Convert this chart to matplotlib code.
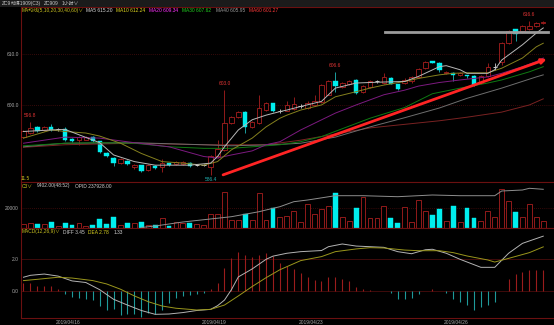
import matplotlib
matplotlib.use("Agg")
import matplotlib.pyplot as plt
from matplotlib.patches import Rectangle

plt.rcParams["font.family"] = ["Liberation Sans", "Noto Sans CJK SC", "DejaVu Sans"]

# hourly candles, ZC909
opens = [593.9, 594.7, 595.8, 595.1, 595.8, 595.3, 595.4, 593.5, 593.2, 593.3,
         593.9, 593.0, 590.7, 589.8, 588.7, 589.2, 587.9, 588.3, 587.3, 588.2,
         588.0, 588.7, 588.5, 588.6, 588.8, 588.3, 588.3, 588.0, 590.0, 591.3,
         596.6, 597.7, 598.8, 595.8, 596.5, 599.1, 600.4, 599.0, 599.0, 599.3,
         599.9, 599.6, 600.0, 600.7, 602.1, 604.7, 603.6, 604.3, 605.0, 602.7,
         603.7, 604.7, 604.5, 605.4, 604.2, 604.4, 604.7, 605.6, 607.3, 608.7,
         608.4, 606.3, 606.3, 605.9, 605.9, 605.8, 604.4, 605.7, 607.6, 608.6,
         612.2, 614.9, 614.5, 615.0, 615.5, 616.2]
highs = [595.2, 596.8, 596.0, 596.0, 596.4, 595.6, 595.8, 593.6, 594.0, 594.0,
         594.0, 593.1, 590.8, 589.9, 589.8, 589.4, 588.5, 588.4, 588.6, 588.3,
         589.6, 588.8, 589.1, 589.2, 588.9, 588.5, 588.5, 590.2, 593.2, 603.0,
         598.0, 598.9, 599.0, 597.0, 602.1, 600.6, 600.5, 599.4, 600.9, 601.6,
         600.2, 600.8, 602.1, 604.2, 604.9, 606.6, 604.6, 605.0, 605.2, 604.0,
         604.9, 605.0, 606.3, 605.5, 604.3, 605.3, 605.8, 607.3, 608.8, 608.8,
         608.5, 606.8, 606.5, 606.5, 606.0, 606.0, 605.9, 608.3, 608.3, 612.4,
         614.7, 615.0, 615.7, 616.6, 616.4, 616.5]
lows = [593.6, 594.5, 594.8, 595.0, 595.0, 595.0, 593.0, 592.9, 592.3, 593.2,
        592.9, 590.6, 589.9, 588.1, 588.5, 588.3, 587.6, 587.0, 587.1, 587.6,
        587.0, 588.2, 588.4, 588.4, 588.0, 588.1, 588.1, 586.4, 589.8, 591.0,
        596.4, 597.5, 594.7, 595.5, 596.3, 599.0, 598.8, 598.6, 598.9, 599.1,
        599.6, 599.4, 599.8, 600.5, 602.0, 602.7, 603.4, 604.1, 602.3, 602.5,
        603.5, 604.4, 604.3, 604.2, 603.1, 604.2, 604.5, 605.4, 607.1, 608.3,
        606.6, 606.1, 604.7, 605.7, 605.4, 603.8, 604.2, 605.5, 607.0, 608.0,
        612.0, 612.6, 614.3, 614.8, 615.3, 616.0]
closes = [594.9, 595.5, 594.9, 595.8, 595.1, 595.3, 593.2, 593.1, 593.8, 593.8,
          593.0, 590.8, 590.0, 588.7, 589.6, 588.5, 588.3, 587.2, 588.3, 587.8,
          588.8, 588.4, 589.0, 589.0, 588.1, 588.3, 588.3, 590.0, 591.4, 596.6,
          597.8, 598.7, 595.8, 596.8, 599.6, 600.4, 599.0, 599.0, 600.1, 600.3,
          599.9, 600.5, 600.8, 604.0, 604.7, 603.8, 604.4, 604.7, 602.4, 603.8,
          604.7, 604.7, 605.6, 604.3, 603.2, 605.0, 605.6, 607.1, 608.6, 608.4,
          607.0, 606.6, 606.0, 606.3, 605.7, 604.0, 605.7, 607.5, 607.6, 612.2,
          614.5, 614.0, 615.5, 615.5, 616.2, 616.4]
volumes = [4.0, 4.7, 3.7, 4.0, 6.3, 2.0, 5.3, 3.0, 4.7, 2.0,
           3.0, 9.0, 3.7, 11.3, 3.0, 4.7, 5.0, 5.7, 3.0, 3.0,
           9.7, 2.0, 6.3, 5.0, 4.7, 4.0, 3.0, 13.7, 13.7, 35.7,
           8.0, 8.5, 13.7, 8.0, 34.7, 8.0, 20.5, 11.3, 12.3, 17.0,
           6.3, 23.7, 13.7, 19.0, 22.0, 34.7, 10.7, 7.0, 19.7, 31.3,
           9.7, 9.7, 22.0, 9.7, 5.3, 20.7, 5.7, 28.0, 17.0, 13.0,
           19.0, 7.0, 22.3, 5.7, 20.3, 10.3, 7.0, 17.0, 10.7, 38.7,
           27.0, 16.3, 11.0, 23.7, 11.0, 7.0]  # thousand lots
macd_hist = [0.5, 0.52, 0.35, 0.33, 0.31, 0.17, -0.15, -0.38, -0.44, -0.5,
             -0.54, -0.92, -1.17, -1.13, -1.48, -1.44, -1.44, -1.58, -1.38, -1.42,
             -1.17, -0.71, -0.44, -0.29, -0.23, -0.17, -0.08, 0.17, 0.52, 1.44,
             2.06, 2.48, 2.27, 2.13, 2.27, 2.38, 2.2, 1.79, 1.58, 1.38,
             1.13, 0.92, 0.71, 0.67, 0.88, 0.88, 0.75, 0.67, 0.25, 0.15,
             0.08, 0.04, 0.04, -0.13, -0.5, -0.5, -0.44, -0.17, 0.04, 0.13,
             0.04, -0.13, -0.5, -0.65, -0.86, -1.17, -1.0, -0.86, -0.65, 0.04,
             0.75, 1.08, 1.23, 1.33, 1.33, 1.33]

# moving averages (bar index, price)
ma5_x = [0, 4, 6, 11, 13, 16, 19, 24, 27, 28, 29, 31, 33, 35, 37, 38, 40, 43, 45, 48,
         50, 52, 55, 57, 60, 61, 63, 64, 67, 68, 69, 72, 74, 75]
ma5_y = [594.9, 595.2, 595.3, 592.7, 590.3, 589.0, 588.3, 588.3, 588.7, 590.0, 591.9,
         595.2, 597.2, 598.1, 598.8, 599.1, 599.8, 600.8, 603.4, 604.4, 604.5, 604.6,
         604.7, 605.7, 607.6, 607.8, 607.0, 606.3, 606.3, 607.0, 608.9, 611.9, 614.2, 615.2]
ma10_x = [0, 4, 6, 9, 11, 14, 17, 20, 23, 26, 28, 30, 33, 35, 37, 38, 40, 43, 45, 48,
          50, 52, 55, 57, 60, 62, 64, 67, 69, 72, 74, 75]
ma10_y = [593.6, 595.2, 594.9, 594.6, 594.0, 592.6, 590.6, 589.0, 588.7, 588.3, 589.0,
          591.3, 593.6, 595.8, 597.5, 598.1, 599.1, 600.1, 601.7, 602.7, 603.4, 604.0,
          604.7, 605.3, 606.0, 606.3, 606.4, 606.4, 607.3, 609.3, 611.5, 612.2]
ma20_x = [0, 4, 6, 11, 16, 21, 26, 28, 30, 33, 35, 37, 40, 45, 48, 50, 52, 55, 57, 60,
          63, 67, 69, 72, 74, 75]
ma20_y = [592.6, 593.4, 593.8, 593.6, 592.7, 591.9, 590.0, 589.7, 590.3, 591.1, 592.3,
          592.9, 595.2, 598.5, 600.1, 601.1, 602.1, 603.0, 603.8, 604.5, 605.0, 605.6,
          606.3, 607.6, 608.6, 609.3]
ma30_x = [0, 6, 11, 16, 21, 26, 30, 35, 37, 40, 43, 50, 55, 59, 63, 67, 69, 73, 75]
ma30_y = [592.1, 592.6, 592.7, 592.6, 591.9, 591.6, 591.6, 592.1, 592.3, 592.9, 593.9,
          597.5, 599.6, 602.3, 603.4, 604.4, 605.0, 606.6, 607.6]
ma40_x = [0, 6, 16, 26, 30, 36, 40, 45, 50, 55, 60, 64, 69, 74, 75]
ma40_y = [591.9, 592.6, 592.7, 592.3, 592.1, 592.3, 592.6, 593.8, 595.8, 597.6, 599.5,
          601.4, 603.4, 605.6, 606.0]
ma60_x = [0, 6, 16, 26, 35, 40, 45, 50, 55, 60, 64, 69, 73, 75]
ma60_y = [591.8, 592.3, 592.6, 592.3, 592.3, 593.2, 594.4, 595.6, 596.3, 597.0, 597.7,
          598.7, 600.1, 601.3]

# open interest line in volume pane (same scale as volumes)
oi_x = [17, 19, 23, 30, 34, 36, 37, 39, 41, 45, 49, 54, 59, 63, 68, 69, 72, 73, 75]
oi_y = [0.5, 2.0, 6.0, 11.3, 16.3, 19.7, 21.3, 26.3, 28.0, 32.3, 32.3, 31.3, 33.0,
        32.3, 32.3, 37.0, 38.0, 39.7, 38.7]

# MACD lines
diff_x = [0, 1, 3, 5, 7, 9, 11, 13, 15, 17, 19, 21, 23, 25, 27, 28, 29, 30, 31, 33,
          35, 36, 38, 40, 43, 44, 46, 48, 50, 52, 54, 56, 58, 59, 61, 63, 66, 68, 70, 72, 75]
diff_y = [0.88, 1.0, 1.08, 0.95, 0.65, 0.55, 0.1, -0.5, -0.86, -1.2, -1.44, -1.42, -1.33,
          -1.2, -1.13, -0.9, -0.55, 0.1, 0.9, 1.4, 2.0, 2.2, 2.38, 2.48, 2.55, 2.79, 2.96,
          2.83, 2.79, 2.75, 2.48, 2.35, 2.6, 2.63, 2.38, 2.0, 1.5, 1.5, 2.38, 3.0, 3.45]
dea_x = [0, 2, 5, 7, 10, 12, 14, 16, 18, 20, 22, 24, 25, 27, 29, 31, 33, 35, 37, 38, 40,
         43, 45, 48, 50, 52, 55, 57, 60, 62, 64, 67, 68, 70, 73, 75]
dea_y = [0.67, 0.75, 0.88, 0.83, 0.67, 0.46, 0.13, -0.29, -0.65, -0.92, -1.06, -1.13,
         -1.17, -1.13, -0.86, -0.29, 0.3, 0.85, 1.35, 1.54, 1.92, 2.17, 2.48, 2.65, 2.73,
         2.71, 2.58, 2.54, 2.54, 2.42, 2.21, 1.96, 1.83, 2.06, 2.42, 2.78]

# drawn objects: trend arrow and resistance line
trend_x = [28.8, 75.5]
trend_y = [586.4, 609.1]
level_x = [52.2, 75.7]
level_y = [614.4, 614.4]

high_marks = [1, 29, 45, 73]
low_marks = [27]
date_pos = [6.5, 27.5, 41.5, 62.5]
date_labels = ["2019/04/16", "2019/04/19", "2019/04/23", "2019/04/26"]

W, H = 554, 325
UP = "#a81e1e"
DOWN = "#00eeee"
FRAME = "#6a1010"
GRID = "#4a0d0d"
TXT = "#a8a8a8"
FS = 3.5

fig = plt.figure(figsize=(W / 100, H / 100), dpi=100, facecolor="black")


def pane(top, bottom):
    ax = fig.add_axes([21 / W, 1 - bottom / H, 1 - 21 / W, (bottom - top) / H])
    ax.set_facecolor("black")
    for s in ["left", "top", "bottom"]:
        ax.spines[s].set_color(FRAME)
        ax.spines[s].set_linewidth(0.8)
    ax.spines["right"].set_visible(False)
    ax.set_xlim(-0.36, 76.55)
    ax.tick_params(length=0, labelsize=FS, colors=TXT, pad=1.5)
    ax.set_xticks([])
    return ax


def put(x, y, s, c):
    fig.text(x / W, 1 - y / H, s, color=c, fontsize=FS, va="center", ha="left")


# header bar
fig.patches.append(Rectangle((0, 1 - 7 / H), 1, 7 / H, transform=fig.transFigure,
                             facecolor="#1b1b1b", edgecolor="none"))
put(2, 3.5, "ZC9", "#c8c8c8")
put(11, 3.5, "动煤1909(C3)", "#c8c8c8")
put(44, 3.5, "ZC909", "#c8c8c8")
put(62, 3.5, "1小时∨", "#c8c8c8")

# price pane
ax1 = pane(7, 182)
ax1.set_ylim(585.0, 619.3)
ax1.set_yticks([600, 610])
ax1.set_yticklabels(["600.0", "610.0"])
for p in [600, 610]:
    ax1.axhline(p, color=GRID, lw=0.6, ls=(0, (1, 1.5)), zorder=1)

n = len(closes)
for i in range(n):
    o, h, l, c = opens[i], highs[i], lows[i], closes[i]
    if c == o:
        ax1.vlines(i, l, h, color="#d0d0d0", lw=0.6, zorder=2)
        ax1.hlines(o, i - 0.32, i + 0.32, color="#d0d0d0", lw=0.7, zorder=3)
    elif c > o:
        ax1.vlines(i, l, h, color=UP, lw=0.6, zorder=2)
        ax1.bar(i, c - o, bottom=o, width=0.64, facecolor="black", edgecolor=UP,
                lw=0.6, zorder=3)
    else:
        ax1.vlines(i, l, h, color="#20b8b8", lw=0.6, zorder=2)
        ax1.bar(i, o - c, bottom=c, width=0.64, facecolor=DOWN, edgecolor=DOWN,
                lw=0.3, zorder=3)

ax1.plot(ma60_x, ma60_y, color="#7a2222", lw=0.7, zorder=4)
ax1.plot(ma40_x, ma40_y, color="#6e6e6e", lw=0.7, zorder=4)
ax1.plot(ma30_x, ma30_y, color="#0f7a12", lw=0.7, zorder=4)
ax1.plot(ma20_x, ma20_y, color="#7d1a80", lw=0.7, zorder=4)
ax1.plot(ma10_x, ma10_y, color="#85801e", lw=0.7, zorder=4)
ax1.plot(ma5_x, ma5_y, color="#b8b8b8", lw=0.7, zorder=4)

ax1.plot(level_x, level_y, color="#9c9c9c", lw=2.0, zorder=5)
ax1.annotate("", xy=(trend_x[1], trend_y[1]), xytext=(trend_x[0], trend_y[0]),
             arrowprops=dict(arrowstyle="-|>", color="#ff2424", lw=2.0,
                             mutation_scale=7, shrinkA=0, shrinkB=0), zorder=6)

for i in high_marks:
    ax1.annotate(f"{highs[i]:.1f}", (i, highs[i]), xytext=(0, 3), textcoords="offset points",
                 ha="center", va="bottom", color="#e03434", fontsize=FS)
for i in low_marks:
    ax1.annotate(f"{lows[i]:.1f}", (i, lows[i]), xytext=(0, -1.5), textcoords="offset points",
                 ha="center", va="top", color="#22b4b4", fontsize=FS)

put(21.7, 10, "MA均线(5,10,20,30,40,60)∨", "#c8c020")
put(86, 10, "MA5 615.20", "#d8d8d8")
put(116, 10, "MA10 612.24", "#e0d820")
put(149, 10, "MA20 609.34", "#ff30ff")
put(182, 10, "MA30 607.62", "#20d020")
put(216, 10, "MA40 605.95", "#9a9a9a")
put(249, 10, "MA60 601.27", "#ff3a3a")
put(21, 179, "11.5", "#c8c020")

# volume pane
ax2 = pane(182, 228)
ax2.set_ylim(0, 46)
ax2.set_yticks([20])
ax2.set_yticklabels(["20000"])
ax2.axhline(20, color=GRID, lw=0.6, ls=(0, (1, 1.5)), zorder=1)
for i in range(n):
    if closes[i] >= opens[i]:
        ax2.bar(i, volumes[i], width=0.7, facecolor="black", edgecolor=UP, lw=0.6, zorder=2)
    else:
        ax2.bar(i, volumes[i], width=0.7, facecolor=DOWN, edgecolor=DOWN, lw=0.3, zorder=2)
ax2.plot(oi_x, oi_y, color="#8e8e8e", lw=0.7, zorder=3)
put(21.7, 186, "C3∨", "#c8c020")
put(37, 186, "9402.00(48:52)", "#d0d0d0")
put(75, 186, "OPID 237928.00", "#d0d0d0")

# MACD pane
ax3 = pane(228, 318)
ax3.set_ylim(-1.67, 3.96)
ax3.set_yticks([0, 2])
ax3.set_yticklabels(["0.0", "2.0"])
for v in [0, 2]:
    ax3.axhline(v, color=GRID, lw=0.6, zorder=1)
for i in range(n):
    col = "#9a1c1c" if macd_hist[i] >= 0 else "#1e9a9a"
    ax3.vlines(i, 0, macd_hist[i], color=col, lw=0.8, zorder=2)
ax3.plot(diff_x, diff_y, color="#b4b4b4", lw=0.7, zorder=3)
ax3.plot(dea_x, dea_y, color="#9a961c", lw=0.7, zorder=3)
ax3.set_xticks(date_pos)
ax3.set_xticklabels(date_labels)
put(21.7, 232, "MACD(12,26,9)∨", "#c8c020")
put(63, 232, "DIFF 3.45", "#d0d0d0")
put(88, 232, "DEA 2.78", "#e0d820")
put(114, 232, "1.33", "#d0d0d0")

fig.savefig("out.png", dpi=100, facecolor="black")
